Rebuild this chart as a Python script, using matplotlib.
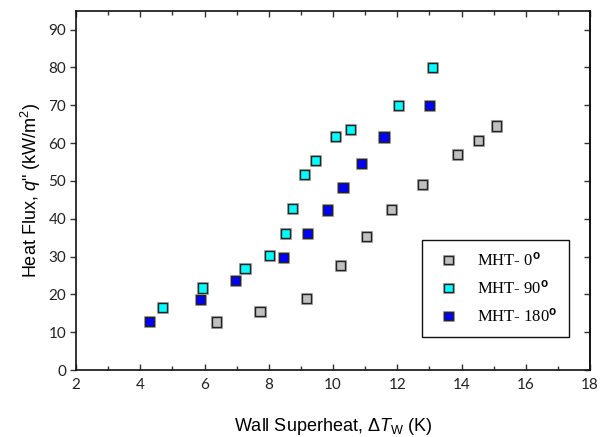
import matplotlib
matplotlib.use("Agg")
import matplotlib.pyplot as plt
import matplotlib.patheffects as pe
from matplotlib.ticker import MultipleLocator

plt.rcParams['mathtext.fontset'] = 'custom'
plt.rcParams['mathtext.rm'] = 'Liberation Sans'
plt.rcParams['mathtext.it'] = 'Liberation Sans:italic'
plt.rcParams['mathtext.bf'] = 'Liberation Sans:bold'

# Data
dT_0 = [6.38, 7.73, 9.18, 10.23, 11.03, 11.81, 12.78, 13.88, 14.52, 15.08]
q_0 = [12.7, 15.4, 18.9, 27.6, 35.3, 42.4, 49.1, 57.0, 60.7, 64.5]

dT_90 = [4.68, 5.93, 7.26, 8.03, 8.53, 8.73, 9.11, 9.45, 10.07, 10.55, 12.04, 13.10]
q_90 = [16.5, 21.7, 26.8, 30.3, 36.0, 42.6, 51.6, 55.3, 61.8, 63.5, 70.0, 80.0]

dT_180 = [4.28, 5.88, 6.97, 8.46, 9.21, 9.84, 10.31, 10.89, 11.59, 13.01]
q_180 = [12.9, 18.6, 23.6, 29.7, 36.1, 42.3, 48.2, 54.6, 61.6, 70.0]

series = [
    (dT_0, q_0, '#c0c0c0', 'MHT- 0$^{\\mathbf{o}}$'),
    (dT_90, q_90, '#00ffff', 'MHT- 90$^{\\mathbf{o}}$'),
    (dT_180, q_180, '#0000ff', 'MHT- 180$^{\\mathbf{o}}$'),
]

fig = plt.figure(figsize=(6.0, 4.37), dpi=100)
ax = fig.add_axes([76/600, 67/437, 514/600, 359.3/437])

halo = [pe.Stroke(linewidth=2.2, foreground='#b0b0b0'), pe.Normal()]
for x, y, c, lab in series:
    ax.plot(x, y, linestyle='none', marker='s', markersize=6.6,
            markerfacecolor=c, markeredgecolor='#222222', markeredgewidth=1.0,
            label=lab, path_effects=halo)

ax.set_xlim(2, 18)
ax.set_ylim(0, 95)
ax.xaxis.set_major_locator(MultipleLocator(2))
ax.xaxis.set_minor_locator(MultipleLocator(1))
ax.yaxis.set_major_locator(MultipleLocator(10))

ax.tick_params(axis='x', which='both', direction='in', top=True, bottom=True,
               width=1.0, color='#333333')
ax.tick_params(axis='x', which='major', length=4, labelsize=11, pad=6)
ax.tick_params(axis='x', which='minor', length=3)
ax.tick_params(axis='y', which='major', direction='out', left=True, right=False,
               length=4, width=1.0, labelsize=11, pad=3, color='#333333')
for lbl in ax.get_xticklabels() + ax.get_yticklabels():
    lbl.set_fontfamily('Lato')
    lbl.set_color('#222222')

sec = ax.secondary_yaxis('right')
sec.yaxis.set_major_locator(MultipleLocator(10))
sec.tick_params(axis='y', direction='in', length=4, width=1.0, labelright=False,
                color='#333333')

for sp in list(ax.spines.values()) + list(sec.spines.values()):
    sp.set_linewidth(1.2)
    sp.set_color('#111111')

ax.set_xlabel('Wall Superheat, $\\Delta \\mathit{T}_{\\mathregular{W}}$ (K)',
              fontsize=13, fontfamily='Liberation Sans', labelpad=17)
ax.set_ylabel('Heat Flux, $\\mathit{q}$" (kW/m$^{2}$)',
              fontsize=13, fontfamily='Liberation Sans', labelpad=4)

leg = ax.legend(loc='lower left', bbox_to_anchor=(0.6726, 0.091),
                borderaxespad=0, frameon=True, fancybox=False,
                prop={'family': 'Liberation Serif', 'size': 12},
                handlelength=1.8, handletextpad=0.8, borderpad=0.7,
                labelspacing=0.6, markerscale=0.9)
leg.get_frame().set_edgecolor('#111111')
leg.get_frame().set_linewidth(1.0)
leg.get_frame().set_alpha(1)

fig.savefig('out.png', dpi=100)
